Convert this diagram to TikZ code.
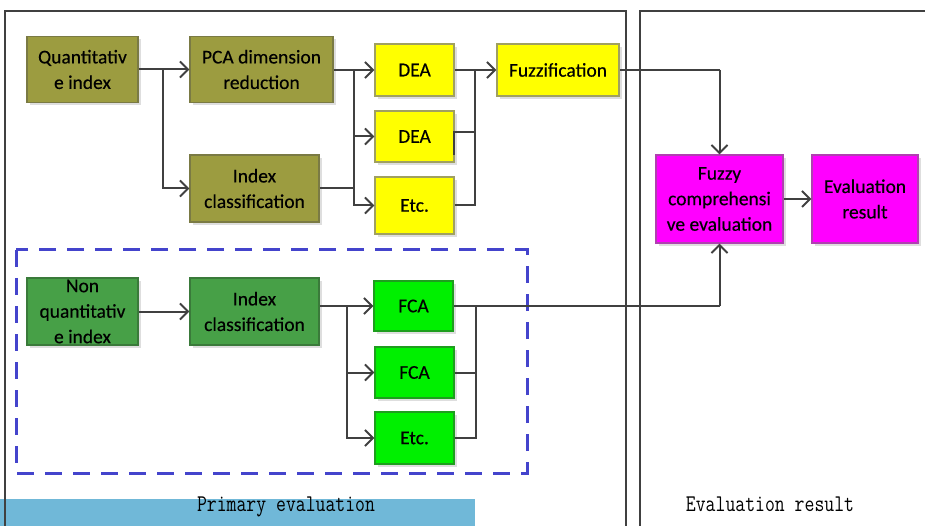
\documentclass[tikz,border=0pt]{standalone}
\usepackage{fontspec}
\setmainfont{Carlito}[FakeBold=0.3]
\usetikzlibrary{arrows.meta,shadows}
\definecolor{olivef}{HTML}{9C9C40}
\definecolor{oliveb}{HTML}{7A7A44}
\definecolor{darkg}{HTML}{47A047}
\definecolor{darkgb}{HTML}{3A7A3A}
\definecolor{brightg}{HTML}{00F000}
\definecolor{brightgb}{HTML}{1E9E1E}
\definecolor{yelf}{HTML}{FFFF00}
\definecolor{yelb}{HTML}{A0A060}
\definecolor{magf}{HTML}{FF00FF}
\definecolor{magb}{HTML}{B040B0}
\definecolor{linec}{HTML}{404040}
\definecolor{barblue}{HTML}{70B8D8}
\definecolor{dashblue}{HTML}{4444CC}
\begin{document}
\begin{tikzpicture}[x=1pt,y=-1pt,
  box/.style={rectangle, line width=1.2pt, inner sep=0pt, align=center,
    font=\fontsize{19.5}{25.5}\selectfont,
    drop shadow={shadow xshift=3pt, shadow yshift=-3pt, fill=black!13, opacity=1}},
  olivebox/.style={box, fill=olivef, draw=oliveb},
  yelbox/.style={box, fill=yelf, draw=yelb},
  magbox/.style={box, fill=magf, draw=magb},
  dgbox/.style={box, fill=darkg, draw=darkgb},
  bgbox/.style={box, fill=brightg, draw=brightgb},
  conn/.style={draw=linec, line width=2pt},
  arr/.style={conn, -{Straight Barb[length=8pt,width=16pt]}},
  frame/.style={draw=linec, line width=2.4pt},
  dashbox/.style={draw=dashblue, line width=3pt, dash pattern=on 17pt off 11pt},
  lbl/.style={inner sep=0pt, anchor=base, font=\ttfamily\fontsize{19.2}{19.2}\selectfont}]
\useasboundingbox (0,0) rectangle (925,526);
\clip (0,0) rectangle (925,526);
% background pieces
\fill[barblue] (0,499) rectangle (475,526);
\draw[frame] (5,535) -- (5,11) -- (626,11) -- (626,535);
\draw[frame] (640,535) -- (640,11) -- (935,11);
\draw[dashbox] (16,250) rectangle (527,473);
\node[lbl] (pe) at (286,511.5) {\scalebox{1}[1.25]{Primary evaluation}};
\node[lbl] (erl) at (770,511.5) {\scalebox{1}[1.25]{Evaluation result}};
% boxes
\node[olivebox, minimum width=111pt, minimum height=66pt] (qi) at (82.5,69.5) {Quantitativ\\e index};
\node[olivebox, minimum width=143pt, minimum height=66pt] (pca) at (261.5,69.5) {PCA dimension\\reduction};
\node[olivebox, minimum width=129pt, minimum height=67pt] (ic1) at (254.5,188.5) {Index\\classification};
\node[yelbox, minimum width=79pt, minimum height=52pt] (dea1) at (414.5,70) {DEA};
\node[yelbox, minimum width=79pt, minimum height=51pt] (dea2) at (414.5,136.5) {DEA};
\node[yelbox, minimum width=79pt, minimum height=57pt] (etc1) at (414.5,205.5) {Etc.};
\node[yelbox, minimum width=122pt, minimum height=52pt] (fuzz) at (558,70) {Fuzzification};
\node[magbox, minimum width=127pt, minimum height=88pt] (fce) at (719.5,199) {Fuzzy\\comprehensi\\ve evaluation};
\node[magbox, minimum width=106pt, minimum height=88pt] (er) at (865,199) {Evaluation\\result};
\node[dgbox, minimum width=111pt, minimum height=67pt] (nqi) at (82.5,311.5) {Non\\quantitativ\\e index};
\node[dgbox, minimum width=129pt, minimum height=67pt] (ic2) at (254.5,311.5) {Index\\classification};
\node[bgbox, minimum width=79pt, minimum height=50pt] (fca1) at (413.5,306) {FCA};
\node[bgbox, minimum width=79pt, minimum height=51pt] (fca2) at (414.5,372.5) {FCA};
\node[bgbox, minimum width=79pt, minimum height=52pt] (etc2) at (414.5,438) {Etc.};
% branch points
\coordinate (s1) at (163,69.5);
\coordinate (s2) at (354,70);
\coordinate (m1) at (475,70);
\coordinate (t1) at (719.5,70);
\coordinate (s3) at (347,306);
\coordinate (m2) at (476,306);
\coordinate (t2) at (719.5,306);
% upper connectors
\draw[arr] (qi.east) -- (pca.west);
\draw[arr] (s1) |- (ic1.west);
\draw[conn] (pca.east |- s2) -- (s2);
\draw[arr] (s2) -- (dea1.west);
\draw[arr] (s2) |- (dea2.west);
\draw[arr] (s2) |- (etc1.west);
\draw[conn] (ic1.east) -- (ic1.east -| s2);
\draw[conn] (dea1.east) -- (m1);
\draw[conn] (454,155) -- (454,132) -- (m1 |- 0,132);
\draw[conn] (etc1.east) -| (m1);
\draw[arr] (m1) -- (fuzz.west);
\draw[conn] (fuzz.east) -- (t1);
\draw[arr] (t1) -- (fce.north);
\draw[arr] (fce.east) -- (er.west);
% lower connectors
\draw[arr] (nqi.east) -- (ic2.west);
\draw[conn] (ic2.east |- s3) -- (s3);
\draw[arr] (s3) -- (fca1.west);
\draw[arr] (s3) |- (fca2.west);
\draw[arr] (s3) |- (etc2.west);
\draw[conn] (fca1.east) -- (t2);
\draw[arr] (t2) -- (fce.south);
\draw[conn] (fca2.east) -| (m2);
\draw[conn] (etc2.east) -| (m2);
\end{tikzpicture}
\end{document}
